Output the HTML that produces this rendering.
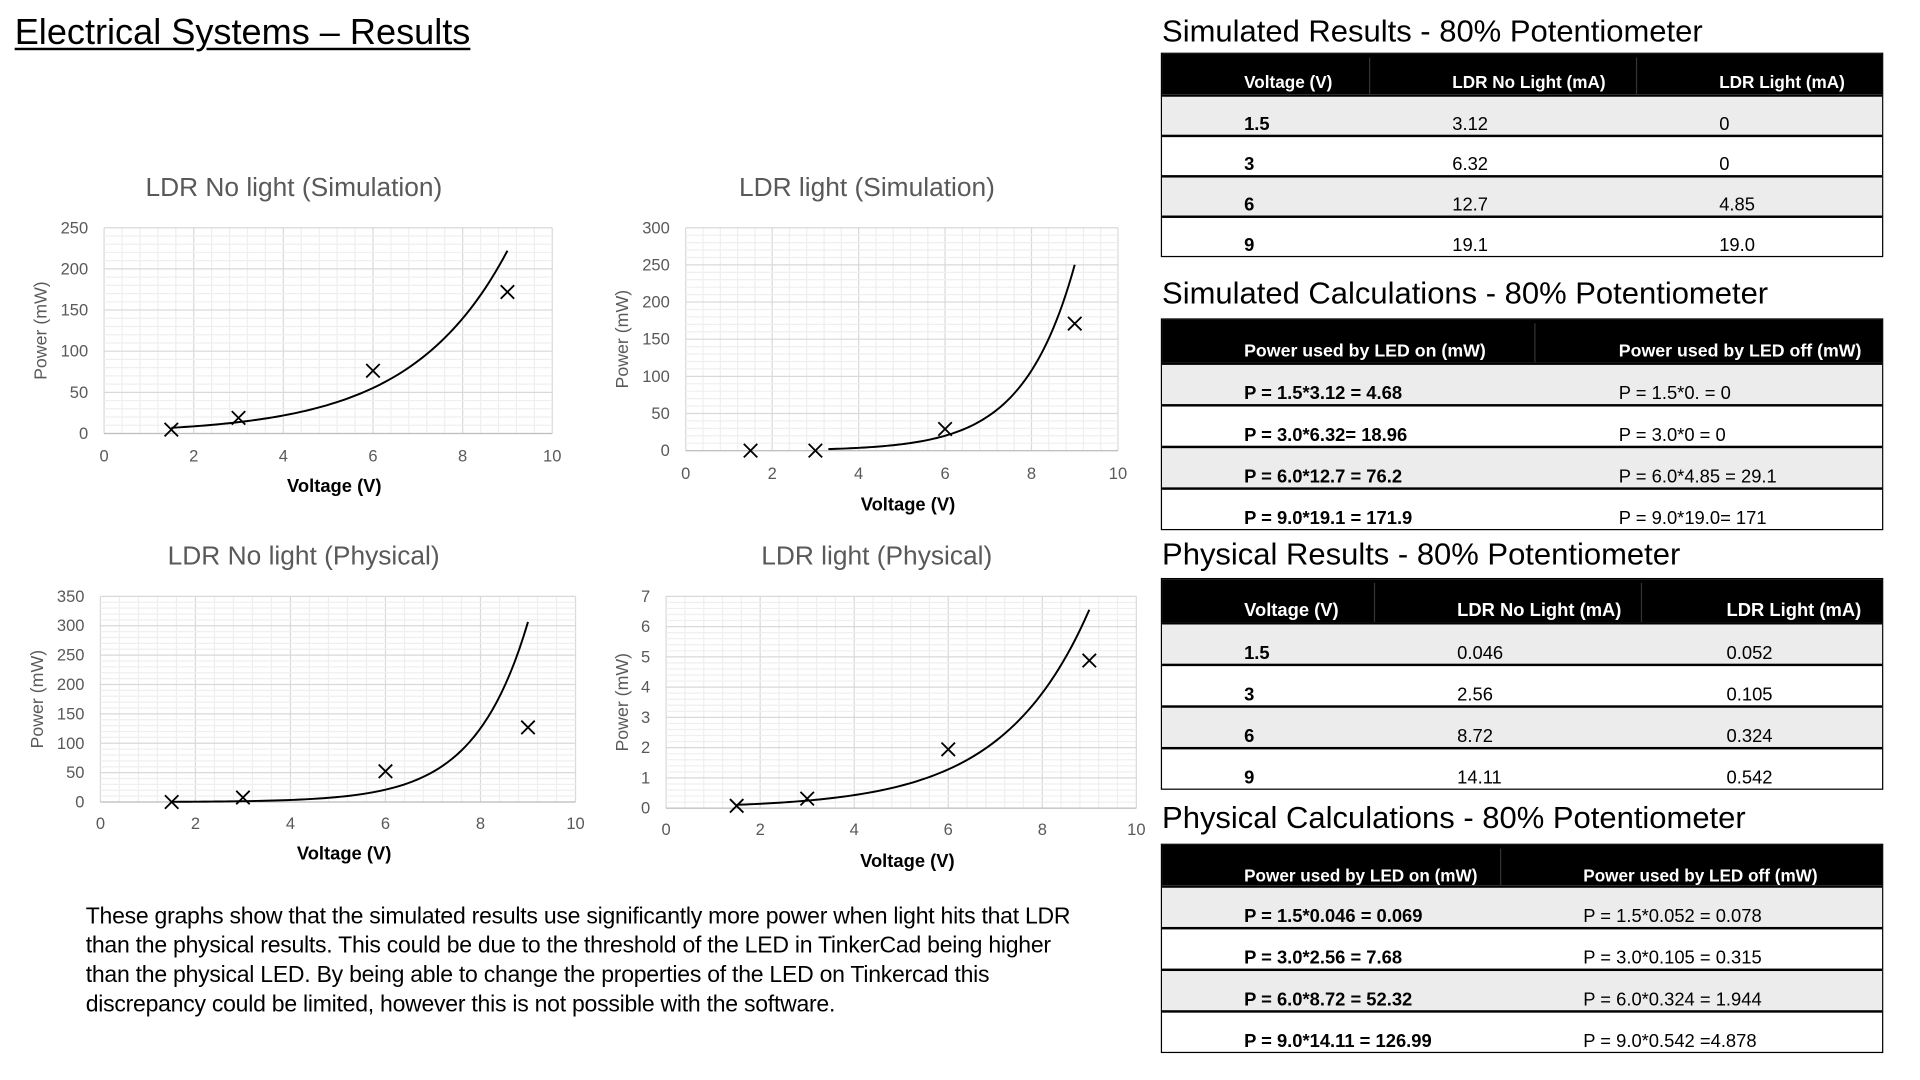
<!DOCTYPE html>
<html><head><meta charset="utf-8">
<style>
html,body{margin:0;padding:0;background:#fff;width:1920px;height:1080px;overflow:hidden;}
#wrap{position:absolute;left:0;top:0;width:1568px;height:882px;transform:scale(1.2245);transform-origin:0 0;font-family:"Liberation Sans",sans-serif;color:#000;}
.abs{position:absolute;}
#main-title{left:12px;top:10px;font-size:29.5px;text-decoration:underline;text-decoration-thickness:1.5px;text-underline-offset:3px;white-space:nowrap;}
.thead{font-size:25.3px;left:949px;white-space:nowrap;}
.tbl{position:absolute;left:948px;width:590px;border:1.5px solid #000;box-sizing:border-box;}
.hdr{background:#000;color:#fff;font-weight:bold;font-size:14px;position:relative;}
.row{position:relative;border-top:2px solid #000;font-size:15px;box-sizing:border-box;}
.row.g{background:#ececec;}
.cell{position:absolute;bottom:0px;white-space:nowrap;}
.div{position:absolute;top:3px;bottom:0;width:1px;background:#333;}
#para{left:70px;top:736px;font-size:18.8px;line-height:24px;white-space:nowrap;letter-spacing:-0.2px;}
</style></head><body>
<div id="wrap">
<div id="main-title" class="abs">Electrical Systems – Results</div>
<svg id="charts" class="abs" style="left:0;top:0" width="1568" height="882"></svg>

<div class="abs thead" style="top:12px">Simulated Results - 80% Potentiometer</div>
<div class="tbl" style="top:43px">
 <div class="hdr" style="height:33px"><span class="cell" style="left:67px;bottom:2px">Voltage (V)</span><div class="div" style="left:169px"></div><span class="cell" style="left:237px;bottom:2px">LDR No Light (mA)</span><div class="div" style="left:387px"></div><span class="cell" style="left:455px;bottom:2px">LDR Light (mA)</span></div>
 <div class="row g" style="height:33px"><span class="cell" style="left:67px;font-weight:bold">1.5</span><span class="cell" style="left:237px">3.12</span><span class="cell" style="left:455px">0</span></div>
 <div class="row" style="height:33px"><span class="cell" style="left:67px;font-weight:bold">3</span><span class="cell" style="left:237px">6.32</span><span class="cell" style="left:455px">0</span></div>
 <div class="row g" style="height:33px"><span class="cell" style="left:67px;font-weight:bold">6</span><span class="cell" style="left:237px">12.7</span><span class="cell" style="left:455px">4.85</span></div>
 <div class="row" style="height:33px"><span class="cell" style="left:67px;font-weight:bold">9</span><span class="cell" style="left:237px">19.1</span><span class="cell" style="left:455px">19.0</span></div>
</div>

<div class="abs thead" style="top:226px">Simulated Calculations - 80% Potentiometer</div>
<div class="tbl" style="top:260px">
 <div class="hdr" style="height:35px;font-size:14.5px"><span class="cell" style="left:67px;bottom:1px">Power used by LED on (mW)</span><div class="div" style="left:304px"></div><span class="cell" style="left:373px;bottom:1px">Power used by LED off (mW)</span></div>
 <div class="row g" style="height:34px"><span class="cell" style="left:67px;font-weight:bold">P = 1.5*3.12 = 4.68</span><span class="cell" style="left:373px">P = 1.5*0. = 0</span></div>
 <div class="row" style="height:34px"><span class="cell" style="left:67px;font-weight:bold">P = 3.0*6.32= 18.96</span><span class="cell" style="left:373px">P = 3.0*0 = 0</span></div>
 <div class="row g" style="height:34px"><span class="cell" style="left:67px;font-weight:bold">P = 6.0*12.7 = 76.2</span><span class="cell" style="left:373px">P = 6.0*4.85 = 29.1</span></div>
 <div class="row" style="height:34px"><span class="cell" style="left:67px;font-weight:bold">P = 9.0*19.1 = 171.9</span><span class="cell" style="left:373px">P = 9.0*19.0= 171</span></div>
</div>

<div class="abs thead" style="top:439px">Physical Results - 80% Potentiometer</div>
<div class="tbl" style="top:472px">
 <div class="hdr" style="height:35px;font-size:15px"><span class="cell" style="left:67px;bottom:1px">Voltage (V)</span><div class="div" style="left:173px"></div><span class="cell" style="left:241px;bottom:1px">LDR No Light (mA)</span><div class="div" style="left:391px"></div><span class="cell" style="left:461px;bottom:1px">LDR Light (mA)</span></div>
 <div class="row g" style="height:34px"><span class="cell" style="left:67px;font-weight:bold">1.5</span><span class="cell" style="left:241px">0.046</span><span class="cell" style="left:461px">0.052</span></div>
 <div class="row" style="height:34px"><span class="cell" style="left:67px;font-weight:bold">3</span><span class="cell" style="left:241px">2.56</span><span class="cell" style="left:461px">0.105</span></div>
 <div class="row g" style="height:34px"><span class="cell" style="left:67px;font-weight:bold">6</span><span class="cell" style="left:241px">8.72</span><span class="cell" style="left:461px">0.324</span></div>
 <div class="row" style="height:34px"><span class="cell" style="left:67px;font-weight:bold">9</span><span class="cell" style="left:241px">14.11</span><span class="cell" style="left:461px">0.542</span></div>
</div>

<div class="abs thead" style="top:654px">Physical Calculations - 80% Potentiometer</div>
<div class="tbl" style="top:689px">
 <div class="hdr" style="height:33px"><span class="cell" style="left:67px;bottom:0px">Power used by LED on (mW)</span><div class="div" style="left:276px"></div><span class="cell" style="left:344px;bottom:0px">Power used by LED off (mW)</span></div>
 <div class="row g" style="height:34px"><span class="cell" style="left:67px;font-weight:bold">P = 1.5*0.046 = 0.069</span><span class="cell" style="left:344px">P = 1.5*0.052 = 0.078</span></div>
 <div class="row" style="height:34px"><span class="cell" style="left:67px;font-weight:bold">P = 3.0*2.56 = 7.68</span><span class="cell" style="left:344px">P = 3.0*0.105 = 0.315</span></div>
 <div class="row g" style="height:34px"><span class="cell" style="left:67px;font-weight:bold">P = 6.0*8.72 = 52.32</span><span class="cell" style="left:344px">P = 6.0*0.324 = 1.944</span></div>
 <div class="row" style="height:34px"><span class="cell" style="left:67px;font-weight:bold">P = 9.0*14.11 = 126.99</span><span class="cell" style="left:344px">P = 9.0*0.542 =4.878</span></div>
</div>

<div id="para" class="abs">These graphs show that the simulated results use significantly more power when light hits that LDR<br>than the physical results. This could be due to the threshold of the LED in TinkerCad being higher<br>than the physical LED. By being able to change the properties of the LED on Tinkercad this<br>discrepancy could be limited, however this is not possible with the software.</div>
</div>

<script>
// ---- data ----
const voltages = [1.5, 3, 6, 9];
const simNoLight = [4.68, 18.96, 76.2, 171.9];
const simLight = [0, 0, 29.1, 171];
const physNoLight = [0.069, 7.68, 52.32, 126.99];
const physLight = [0.078, 0.315, 1.944, 4.878];
const xTicks = [0, 2, 4, 6, 8, 10];
const yTicksSimNoLight = [0, 50, 100, 150, 200, 250];
const yTicksSimLight = [0, 50, 100, 150, 200, 250, 300];
const yTicksPhysNoLight = [0, 50, 100, 150, 200, 250, 300, 350];
const yTicksPhysLight = [0, 1, 2, 3, 4, 5, 6, 7];
// simLight trendline (Excel exponential) coefficients: y = a*e^(b*x), start x
const simLightTrend = [0.128, 0.842, 3.3];
const chartTitles = ["LDR No light (Simulation)", "LDR light (Simulation)", "LDR No light (Physical)", "LDR light (Physical)"];

const NS = "http://www.w3.org/2000/svg";
const svg = document.getElementById('charts');
function mk(tag, attrs, parent) {
  const e = document.createElementNS(NS, tag);
  for (const k in attrs) e.setAttribute(k, attrs[k]);
  (parent || svg).appendChild(e);
  return e;
}
function expFit(xs, ys) {
  const px = [], py = [];
  xs.forEach((x, i) => { if (ys[i] > 0) { px.push(x); py.push(Math.log(ys[i])); } });
  const n = px.length, mx = px.reduce((a, b) => a + b) / n, my = py.reduce((a, b) => a + b) / n;
  let sxx = 0, sxy = 0;
  for (let i = 0; i < n; i++) { sxx += (px[i] - mx) ** 2; sxy += (px[i] - mx) * (py[i] - my); }
  const b = sxy / sxx;
  return [Math.exp(my - b * mx), b, xs[0]];
}

const layouts = [
  {L:85, R:451, T:186, B:354, tx:240, ty:160, xtY:377, xtitY:402, ytX:38},
  {L:560, R:913, T:186, B:368, tx:708, ty:160, xtY:391, xtitY:417, ytX:513},
  {L:82, R:470, T:487, B:655, tx:248, ty:461, xtY:677, xtitY:702, ytX:35},
  {L:544, R:928, T:487, B:660, tx:716, ty:461, xtY:682, xtitY:708, ytX:513}
];
const series = [simNoLight, simLight, physNoLight, physLight];
const yTickSets = [yTicksSimNoLight, yTicksSimLight, yTicksPhysNoLight, yTicksPhysLight];
const trends = [expFit(voltages, simNoLight), simLightTrend, expFit(voltages, physNoLight), expFit(voltages, physLight)];

layouts.forEach((ly, ci) => {
  const g = mk('g', {});
  
  
  const yt = yTickSets[ci];
  const ymax = yt[yt.length - 1], xmax = xTicks[xTicks.length - 1];
  const xs = v => ly.L + (v / xmax) * (ly.R - ly.L);
  const ys = v => ly.B - (v / ymax) * (ly.B - ly.T);
  const xStep = xTicks[1] - xTicks[0], yStep = yt[1] - yt[0];
  for (let i = 0; i <= (xmax / xStep) * 5; i++) {
    const v = i * xStep / 5;
    mk('line', {x1: xs(v), x2: xs(v), y1: ly.T, y2: ly.B, stroke: i % 5 ? '#efefef' : '#d9d9d9', 'stroke-width': 1}, g);
  }
  for (let i = 0; i <= (ymax / yStep) * 5; i++) {
    const v = i * yStep / 5;
    mk('line', {x1: ly.L, x2: ly.R, y1: ys(v), y2: ys(v), stroke: i % 5 ? '#efefef' : '#d9d9d9', 'stroke-width': 1}, g);
  }
  mk('line', {x1: ly.L, x2: ly.R, y1: ly.B, y2: ly.B, stroke: '#bfbfbf', 'stroke-width': 1}, g);
  const t = mk('text', {x: ly.tx, y: ly.ty, 'text-anchor': 'middle', 'font-size': 21.5, fill: '#595959', 'font-family': 'Liberation Sans, sans-serif'}, g);
  t.textContent = chartTitles[ci];
  
  
  xTicks.forEach(v => {
    const e = mk('text', {x: xs(v), y: ly.xtY, 'text-anchor': 'middle', 'font-size': 13.5, fill: '#595959', 'font-family': 'Liberation Sans, sans-serif'}, g);
    e.textContent = v;
    
    
  });
  yt.forEach(v => {
    const e = mk('text', {x: ly.L - 13, y: ys(v) + 4.5, 'text-anchor': 'end', 'font-size': 13.5, fill: '#595959', 'font-family': 'Liberation Sans, sans-serif'}, g);
    e.textContent = v;
    
    
  });
  const xt = mk('text', {x: (ly.L + ly.R) / 2 + 5, y: ly.xtitY, 'text-anchor': 'middle', 'font-size': 15, 'font-weight': 'bold', fill: '#000', 'font-family': 'Liberation Sans, sans-serif'}, g);
  xt.textContent = 'Voltage (V)';
  
  
  const ycy = (ly.T + ly.B) / 2;
  const ytt = mk('text', {x: ly.ytX, y: ycy, 'text-anchor': 'middle', 'font-size': 14.5, fill: '#595959', transform: 'rotate(-90 ' + ly.ytX + ' ' + ycy + ')', 'font-family': 'Liberation Sans, sans-serif'}, g);
  ytt.textContent = 'Power (mW)';
  
  
  const [a, b, x0] = trends[ci];
  const x1 = voltages[voltages.length - 1];
  let d = '';
  for (let i = 0; i <= 80; i++) {
    const x = x0 + (x1 - x0) * i / 80;
    d += (i ? 'L' : 'M') + xs(x).toFixed(2) + ' ' + ys(a * Math.exp(b * x)).toFixed(2);
  }
  const tr = mk('path', {d: d, fill: 'none', stroke: '#000', 'stroke-width': 1.6}, g);
  
  
  series[ci].forEach((v, i) => {
    const cx = xs(voltages[i]), cy = ys(v), s = 5.5;
    const m = mk('path', {d: `M${cx - s} ${cy - s}L${cx + s} ${cy + s}M${cx - s} ${cy + s}L${cx + s} ${cy - s}`, stroke: '#000', 'stroke-width': 1.5, fill: 'none'}, g);
    
    
  });
});
</script>
</body></html>
